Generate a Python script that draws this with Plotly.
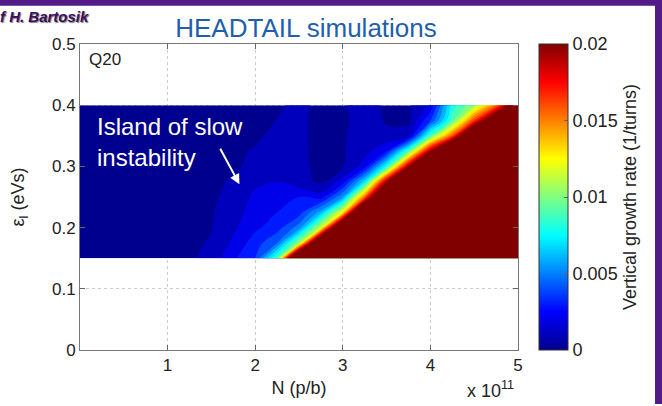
import plotly.graph_objects as go

# Bunch intensity N (units of 1e11 p/b) and longitudinal emittance (eVs)
n_vals = [0.0, 0.25, 0.5, 0.75, 1.0, 1.25, 1.5, 1.75, 2.0, 2.25, 2.5,
          2.75, 3.0, 3.25, 3.5, 3.75, 4.0, 4.25, 4.5, 4.75, 5.0]
eps_vals = [0.15, 0.175, 0.2, 0.225, 0.25, 0.275, 0.3, 0.325, 0.35, 0.375, 0.4]

# Vertical growth rate (1e-3 / turn), one row per emittance value
rate_e3 = [
    [.8, .8, .8, .8, .8, .8, 1.4, 2.8, 4.0, 9.5, 30, 38, 42, 45, 48, 50, 52, 54, 56, 58, 60],
    [.8, .8, .8, .8, .8, .8, 1.1, 2.2, 3.5, 5.0, 11, 28, 35, 40, 44, 47, 50, 52, 54, 56, 58],
    [.8, .8, .8, .8, .8, .8, .95, 1.8, 2.8, 3.5, 5.5, 12, 28, 35, 40, 44, 47, 50, 52, 54, 56],
    [.8, .8, .8, .8, .8, .8, .9, 1.6, 2.4, 3.0, 3.5, 6.5, 13, 30, 36, 40, 44, 47, 50, 52, 54],
    [.8, .8, .8, .8, .8, .8, .8, 1.4, 2.2, 2.8, 3.0, 2.5, 6.0, 16, 30, 35, 40, 44, 47, 50, 52],
    [.8, .8, .8, .8, .8, .8, .8, 1.1, 1.8, 2.0, 1.4, .8, 2.5, 7.5, 20, 30, 36, 40, 44, 47, 50],
    [.8, .8, .8, .8, .8, .8, .8, .8, 1.3, 1.8, 1.3, .7, .9, 2.5, 8.5, 20, 30, 36, 40, 44, 47],
    [.8, .8, .8, .8, .8, .8, .8, .8, 1.1, 1.6, 1.3, .6, .9, 1.6, 3.0, 9.5, 20, 30, 36, 40, 44],
    [.8, .8, .8, .8, .8, .8, .8, .8, .8, 1.3, 1.3, .6, .9, 1.5, 1.2, 1.5, 9.5, 16.5, 28, 35, 40],
    [.8, .8, .8, .8, .8, .8, .8, .8, .8, 1.02, 1.3, .6, .8, 1.5, .9, .8, 4.0, 9.5, 17, 25, 35],
    [.8, .8, .8, .8, .8, .8, .8, .8, .8, .8, 1.3, .7, .9, 1.5, .8, .8, 2.2, 8.5, 11, 16, 24],
]
rate = [[v * 1e-3 for v in row] for row in rate_e3]

x_ticks = [1, 2, 3, 4, 5]
y_ticks = [0, 0.1, 0.2, 0.3, 0.4, 0.5]
y_ticktext = ["0", "0.1", "0.2", "0.3", "0.4", "0.5"]
cb_ticks = [0, 0.005, 0.01, 0.015, 0.02]
cb_ticktext = ["0", "0.005", "0.01", "0.015", "0.02"]

jet = [
    [0.0, "rgb(0,0,143)"],
    [0.125, "rgb(0,0,255)"],
    [0.375, "rgb(0,255,255)"],
    [0.625, "rgb(255,255,0)"],
    [0.875, "rgb(255,0,0)"],
    [1.0, "rgb(128,0,0)"],
]

FONT = "Liberation Sans, Arial, Helvetica, sans-serif"
W, H = 662, 406
L, R, T, B = 80, 144, 44, 50
PW, PH = W - L - R, H - T - B


def px_x(px):
    return (px - L) / PW


def px_y(py):
    return (H - B - py) / PH


fig = go.Figure()

fig.add_trace(go.Contour(
    x=n_vals, y=eps_vals, z=rate,
    colorscale=jet,
    autocontour=False,
    contours=dict(start=0.001, end=0.02, size=0.001, coloring="fill", showlines=False),
    line=dict(width=0, smoothing=1.0),
    showscale=False,
    hoverinfo="skip",
))

# continuous colour bar
fig.add_trace(go.Scatter(
    x=[None], y=[None], mode="markers", showlegend=False, hoverinfo="skip",
    marker=dict(
        color=[0], cmin=0, cmax=0.02, colorscale=jet, showscale=True,
        colorbar=dict(
            xref="container", x=539 / W, xanchor="left", xpad=0,
            y=0.5, yanchor="middle", len=1, lenmode="fraction", ypad=0,
            thickness=29, thicknessmode="pixels",
            outlinecolor="#333", outlinewidth=1,
            tickvals=cb_ticks, ticktext=cb_ticktext,
            ticks="inside", ticklen=4, tickcolor="#666",
            tickfont=dict(family=FONT, size=18, color="#222"),
            title=dict(text="Vertical growth rate (1/turns)", side="right",
                       font=dict(family=FONT, size=18, color="#222")),
        ),
    ),
))

axis_common = dict(
    ticks="inside", ticklen=5, tickcolor="#666",
    showline=True, linecolor="#777", linewidth=1, mirror="ticks",
    showgrid=True, gridcolor="#cccccc", griddash="dot", gridwidth=1,
    zeroline=False,
    tickfont=dict(family=FONT, size=17, color="#222"),
)

fig.update_layout(
    width=W, height=H,
    margin=dict(l=L, r=R, t=T, b=B),
    paper_bgcolor="white", plot_bgcolor="white",
    font=dict(family=FONT, color="#222"),
    title=dict(text="HEADTAIL simulations", x=306 / W, xanchor="center",
               y=1 - 28 / H, yanchor="middle",
               font=dict(family=FONT, size=26, color="#1f5fae")),
    xaxis=dict(range=[0, 5], tickvals=x_ticks,
               title=dict(text="N (p/b)", font=dict(family=FONT, size=18), standoff=6),
               **axis_common),
    yaxis=dict(range=[0, 0.5], tickvals=y_ticks, ticktext=y_ticktext,
               title=dict(text="ε<sub>l</sub> (eVs)", font=dict(family=FONT, size=18), standoff=22),
               **axis_common),
    showlegend=False,
)

fig.add_annotation(text="x 10<sup>11</sup>", xref="paper", yref="paper",
                   x=px_x(516), y=px_y(396), xanchor="right", yanchor="middle",
                   showarrow=False, font=dict(family=FONT, size=18, color="#222"))

fig.add_annotation(text="Q20", xref="paper", yref="paper",
                   x=px_x(87), y=px_y(60), xanchor="left", yanchor="middle",
                   showarrow=False, font=dict(family=FONT, size=17, color="#222"))

fig.add_annotation(text="Island of slow<br>instability", xref="paper", yref="paper",
                   x=px_x(95), y=px_y(144), xanchor="left", yanchor="middle", align="left",
                   showarrow=False, font=dict(family=FONT, size=24, color="white"))

fig.add_annotation(x=1.82, y=0.271, xref="x", yref="y", text="",
                   showarrow=True, arrowhead=2, arrowsize=1, arrowwidth=2,
                   arrowcolor="white", ax=-20, ay=-37)

fig.add_annotation(text="<b><i>f H. Bartosik</i></b>", xref="paper", yref="paper",
                   x=px_x(-2), y=px_y(16), xanchor="left", yanchor="middle",
                   showarrow=False,
                   font=dict(family=FONT, size=15, color="#3a0e62",
                             shadow="1px 1px 1px #777"))

# purple slide frame along the top and right edges
PURPLE = "#521b87"
fig.add_shape(type="rect", xref="paper", yref="paper", layer="above",
              x0=px_x(-5), x1=px_x(W + 5), y0=px_y(5), y1=px_y(-5),
              fillcolor=PURPLE, line=dict(width=0))
fig.add_shape(type="rect", xref="paper", yref="paper", layer="above",
              x0=px_x(655), x1=px_x(W + 5), y0=px_y(H + 5), y1=px_y(-5),
              fillcolor=PURPLE, line=dict(width=0))

fig.write_html("out.html")
